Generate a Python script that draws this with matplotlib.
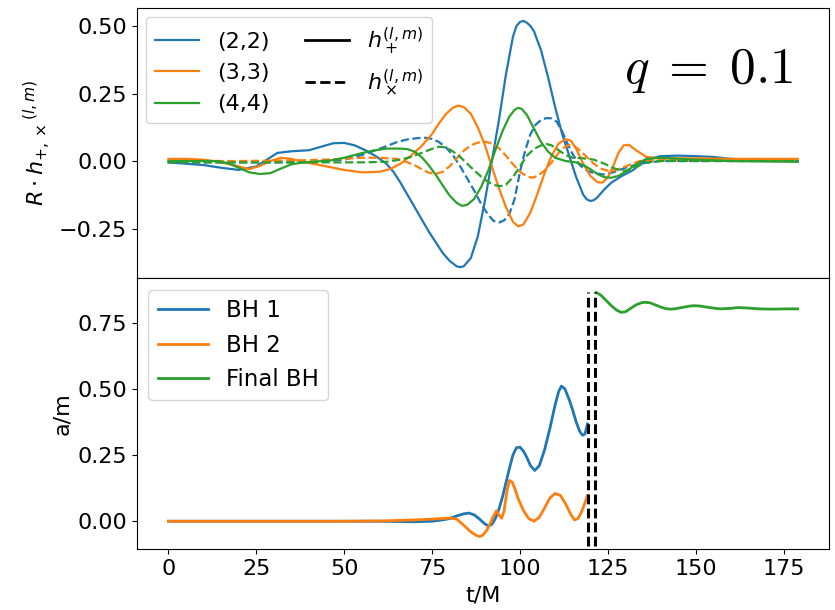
import numpy as np
import matplotlib.pyplot as plt

# top panel: strain modes
t22p = [0, 5, 10, 15, 20, 25, 28, 31, 35, 40, 44, 47, 50, 53, 56, 59, 62, 64, 66, 68, 70, 72, 74, 76, 78, 80, 82, 83, 84, 86, 88, 90, 92, 94, 96, 98, 99, 100, 101, 102, 103, 104, 106, 108, 110, 112, 114, 116, 118, 119, 120, 121, 122, 124, 126, 129, 132, 136, 140, 145, 150, 155, 160, 170, 179]
h22p = [-0.005, -0.01, -0.015, -0.025, -0.033, -0.02, 0.005, 0.03, 0.036, 0.04, 0.055, 0.066, 0.067, 0.058, 0.04, 0.018, -0.01, -0.04, -0.08, -0.125, -0.17, -0.215, -0.26, -0.3, -0.34, -0.37, -0.39, -0.393, -0.39, -0.36, -0.28, -0.15, 0.0, 0.15, 0.32, 0.46, 0.5, 0.515, 0.519, 0.512, 0.5, 0.48, 0.41, 0.31, 0.2, 0.1, 0.02, -0.06, -0.125, -0.142, -0.148, -0.145, -0.135, -0.105, -0.08, -0.055, -0.035, 0.005, 0.018, 0.02, 0.018, 0.015, 0.008, 0.003, 0.0]

t22x = [0, 10, 20, 30, 40, 50, 55, 60, 65, 68, 71, 73, 75, 77, 79, 81, 83, 85, 87, 89, 91, 92.5, 94, 95.5, 97, 98.5, 100, 101.5, 103, 104.5, 106, 107.5, 109, 110.5, 112, 113.5, 115, 117, 119, 121, 124, 127, 130, 134, 140, 150, 179]
h22x = [-0.005, -0.005, -0.005, -0.005, -0.004, 0.005, 0.022, 0.045, 0.07, 0.08, 0.085, 0.086, 0.082, 0.07, 0.05, 0.02, -0.02, -0.065, -0.11, -0.16, -0.2, -0.222, -0.228, -0.22, -0.195, -0.14, -0.04, 0.04, 0.1, 0.135, 0.152, 0.159, 0.158, 0.145, 0.11, 0.065, 0.025, -0.015, -0.035, -0.045, -0.05, -0.04, -0.025, -0.01, 0.0, 0.0, 0.0]

t33p = [0, 5, 10, 15, 20, 23, 26, 29, 32, 35, 38, 41, 45, 50, 55, 60, 63, 66, 69, 72, 75, 77, 79, 81, 82.5, 84, 86, 88, 90, 92, 94, 96, 98, 99.5, 101, 103, 105, 107, 109, 111, 113, 114.5, 116, 118, 120, 122, 123.5, 125, 126.5, 128, 129.5, 131, 133, 136, 140, 150, 160, 179]
h33p = [0.008, 0.008, 0.005, -0.005, -0.02, -0.03, -0.018, 0.0, 0.012, 0.008, -0.002, -0.01, -0.02, -0.033, -0.042, -0.04, -0.03, -0.01, 0.02, 0.055, 0.1, 0.14, 0.175, 0.198, 0.205, 0.2, 0.175, 0.125, 0.06, -0.02, -0.1, -0.17, -0.225, -0.242, -0.235, -0.19, -0.12, -0.045, 0.02, 0.065, 0.081, 0.075, 0.045, -0.01, -0.055, -0.078, -0.08, -0.06, -0.02, 0.03, 0.058, 0.06, 0.04, 0.015, 0.01, 0.01, 0.008, 0.008]

t33x = [0, 20, 40, 50, 55, 60, 65, 68, 70, 72, 74, 76, 78, 80, 82, 84, 86, 88, 90, 92, 94, 96, 98, 100, 102, 103.5, 105, 107, 109, 111, 112.5, 114, 115.5, 117, 119, 121, 123, 125, 127, 130, 134, 140, 179]
h33x = [0.0, 0.0, 0.003, 0.008, 0.012, 0.012, 0.008, -0.005, -0.015, -0.03, -0.043, -0.048, -0.04, -0.02, 0.01, 0.038, 0.058, 0.068, 0.072, 0.065, 0.048, 0.02, -0.012, -0.04, -0.057, -0.062, -0.055, -0.035, -0.005, 0.03, 0.05, 0.06, 0.055, 0.04, 0.015, -0.01, -0.028, -0.036, -0.035, -0.02, 0.0, 0.003, 0.003]

t44p = [0, 10, 14, 17, 20, 23, 26, 29, 32, 35, 38, 42, 46, 50, 54, 58, 62, 66, 68, 70, 72, 74, 76, 78, 80, 82, 83.5, 85, 87, 89, 91, 93, 95, 97, 98.5, 99.5, 100.5, 102, 104, 106, 108, 110, 113, 116, 118, 120, 122, 124, 126, 128, 130, 132, 134, 136, 140, 150, 160, 179]
h44p = [0.0, 0.0, 0.0, -0.008, -0.025, -0.042, -0.048, -0.045, -0.028, -0.012, -0.006, -0.002, 0.002, 0.012, 0.026, 0.038, 0.046, 0.046, 0.044, 0.035, 0.015, -0.015, -0.05, -0.09, -0.128, -0.155, -0.166, -0.162, -0.14, -0.095, -0.035, 0.04, 0.11, 0.165, 0.19, 0.197, 0.193, 0.17, 0.12, 0.07, 0.035, 0.012, 0.0, -0.005, -0.015, -0.03, -0.048, -0.06, -0.062, -0.055, -0.04, -0.022, -0.005, 0.008, 0.012, 0.005, 0.0, -0.003]

t44x = [0, 20, 40, 55, 62, 66, 69, 72, 75, 77, 79, 81, 83, 85, 87, 89, 91, 93, 94.5, 96, 98, 100, 102, 104, 106, 107.5, 109, 111, 113, 115, 118, 121, 124, 127, 129, 131, 133, 136, 140, 179]
h44x = [-0.005, -0.005, -0.005, -0.005, -0.003, 0.005, 0.015, 0.03, 0.045, 0.053, 0.05, 0.035, 0.015, -0.01, -0.035, -0.058, -0.078, -0.09, -0.093, -0.088, -0.06, -0.02, 0.02, 0.045, 0.058, 0.063, 0.058, 0.04, 0.022, 0.012, 0.01, 0.005, -0.01, -0.028, -0.036, -0.035, -0.022, -0.005, 0.0, 0.0]

# bottom panel: spins
t_bh1 = [0, 10, 20, 30, 40, 50, 60, 70, 75, 78, 80, 82, 84, 85.5, 87, 88.5, 90, 91, 92, 93, 94, 95, 96, 97, 98, 99, 100, 101, 102, 103, 104.2, 105.5, 107, 108.5, 110, 111, 111.8, 112.8, 114, 115, 116, 117, 117.8, 118.5, 119.2]
a_bh1 = [0, 0, 0, 0, 0, 0, 0, -0.002, 0.0, 0.005, 0.01, 0.02, 0.028, 0.031, 0.024, 0.008, -0.01, -0.018, -0.012, 0.01, 0.045, 0.09, 0.145, 0.2, 0.25, 0.278, 0.28, 0.265, 0.24, 0.21, 0.192, 0.21, 0.27, 0.35, 0.44, 0.49, 0.511, 0.5, 0.46, 0.42, 0.375, 0.34, 0.325, 0.33, 0.368]

t_bh2 = [0, 10, 20, 30, 40, 50, 60, 70, 75, 80, 82, 84, 86, 87.5, 88.5, 89.5, 90.5, 91.5, 92.5, 93.3, 94, 94.8, 95.5, 96.3, 97, 97.8, 98.5, 99.5, 101, 102.5, 104, 105.5, 107, 108.5, 110, 111.5, 113, 114.5, 115.5, 116.5, 117.5, 118.5, 119.2]
a_bh2 = [0, 0, 0, 0, 0, 0, 0.001, 0.005, 0.008, 0.012, 0.008, -0.015, -0.04, -0.053, -0.058, -0.052, -0.035, -0.01, 0.02, 0.039, 0.025, 0.011, 0.04, 0.115, 0.154, 0.148, 0.125, 0.085, 0.04, 0.01, 0.0, 0.015, 0.05, 0.088, 0.105, 0.098, 0.065, 0.025, 0.005, 0.01, 0.035, 0.07, 0.098]

t_fin = [121.7, 123, 124.5, 126, 127.5, 128.8, 130, 131.5, 133, 134.5, 135.5, 137, 138.5, 140, 141.5, 142.6, 144, 146, 148, 149.5, 151, 153, 155, 157, 160, 162, 165, 168, 172, 176, 179]
a_fin = [0.865, 0.855, 0.835, 0.815, 0.798, 0.79, 0.792, 0.805, 0.818, 0.826, 0.828, 0.826, 0.818, 0.81, 0.804, 0.802, 0.803, 0.808, 0.813, 0.815, 0.814, 0.81, 0.806, 0.803, 0.805, 0.808, 0.806, 0.803, 0.802, 0.803, 0.803]

t_merge = [119.3, 121.4]

fig, (ax1, ax2) = plt.subplots(2, 1, sharex=True, figsize=(8.35, 6.1), dpi=100)
fig.subplots_adjust(left=0.164, right=0.993, top=0.987, bottom=0.1, hspace=0)

fs = 16
l1, = ax1.plot(t22p, h22p, color='C0', lw=1.6)
ax1.plot(t22x, h22x, color='C0', lw=1.6, ls='--')
l2, = ax1.plot(t33p, h33p, color='C1', lw=1.6)
ax1.plot(t33x, h33x, color='C1', lw=1.6, ls='--')
l3, = ax1.plot(t44p, h44p, color='C2', lw=1.6)
ax1.plot(t44x, h44x, color='C2', lw=1.6, ls='--')
lp, = ax1.plot([], [], color='k', lw=2)
lx, = ax1.plot([], [], color='k', lw=2, ls='--')
ax1.legend(handles=[l1, l2, l3, lp, lx],
           labels=['(2,2)', '(3,3)', '(4,4)', r'$h_+^{(l,m)}$', r'$h_\times^{(l,m)}$'],
           ncol=2, loc='upper left', fontsize=fs, borderaxespad=0.4, columnspacing=1.6)
ax1.text(0.826, 0.77, r'$q\;=\;0.1$', transform=ax1.transAxes, fontsize=37,
         math_fontfamily='cm', ha='center', va='center')
ax1.set_ylabel(r'$R \cdot h_{+,\times}$$^{(l,m)}$', fontsize=fs)
ax1.set_ylim(-0.435, 0.567)
ax1.set_yticks([-0.25, 0.0, 0.25, 0.5])
ax1.tick_params(labelsize=fs)
ax1.tick_params(axis='x', bottom=False)

ax2.plot(t_bh1, a_bh1, color='C0', lw=2, label='BH 1')
ax2.plot(t_bh2, a_bh2, color='C1', lw=2, label='BH 2')
ax2.plot(t_fin, a_fin, color='C2', lw=2, label='Final BH')
for tm in t_merge:
    ax2.plot([tm, tm], [-0.095, 0.868], color='k', lw=2.2, ls='--', dashes=(3.2, 1.4))
ax2.legend(loc='upper left', fontsize=16.5, handlelength=2.2)
ax2.set_ylim(-0.105, 0.918)
ax2.set_yticks([0.0, 0.25, 0.5, 0.75])
ax2.set_xlabel('t/M', fontsize=fs, labelpad=5)
ax2.set_ylabel('a/m', fontsize=fs)
ax2.set_xticks([0, 25, 50, 75, 100, 125, 150, 175])
ax2.tick_params(labelsize=fs)

fig.savefig('out.png', dpi=100)
